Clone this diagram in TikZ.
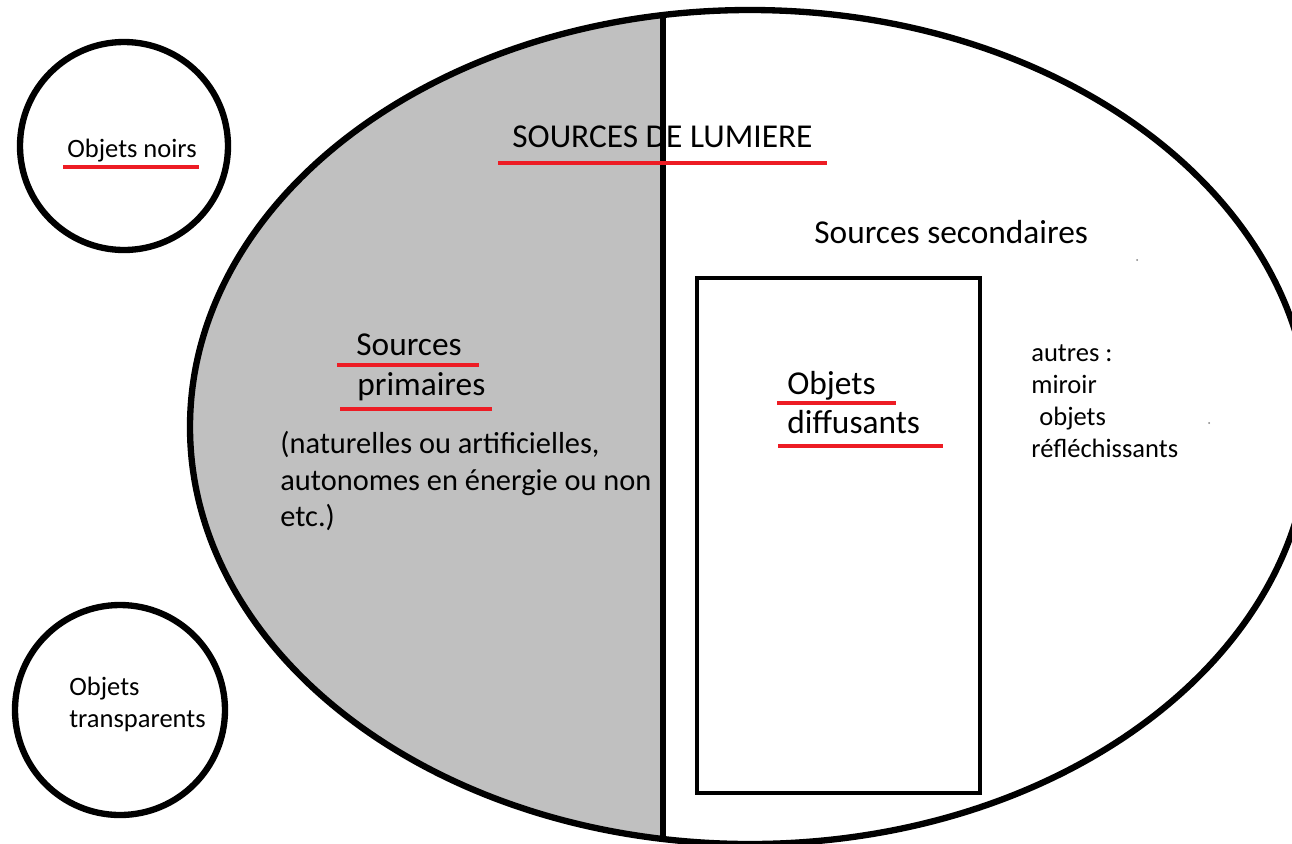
\documentclass[tikz,border=0pt]{standalone}
\usepackage{fontspec}
\setmainfont{Carlito}
\usetikzlibrary{positioning}
\definecolor{lightred}{RGB}{237,28,36}
\definecolor{halfgray}{RGB}{192,192,192}

\begin{document}
\begin{tikzpicture}[x=0.02cm, y=-0.02cm,
	outline/.style={line width=3.6pt},
	underline/.style={draw=lightred, line width=2.2pt},
	small/.style={inner sep=0pt, anchor=base west, font=\fontsize{15.1}{18.2}\selectfont},
	medium/.style={small, font=\fontsize{17.3}{20.8}\selectfont},
	large/.style={small, font=\fontsize{19}{22.7}\selectfont}]
	\useasboundingbox (0,0) rectangle (1292,843);

	% left half of the ellipse
	\begin{scope}
		\clip (0,0) rectangle (663,843);
		\fill[halfgray] (750,427) ellipse [x radius=560, y radius=417];
	\end{scope}
	\draw[outline] (750,427) ellipse [x radius=560, y radius=417];
	\coordinate (divtop) at (663,15);
	\coordinate (divbot) at (663,839);
	\draw[outline] (divtop) -- (divbot);
	\draw[line width=2.3pt] (697,278) rectangle (980,793);

	% side circles
	\draw[outline] (124,146) circle [radius=104];
	\draw[outline] (120,710) circle [radius=105];

	\node [large]  (lumiere)      at (512,147)  {SOURCES DE LUMIERE};
	\node [small]  (noirs)        at (67,157)   {Objets noirs};
	\node [small]  (transp1)      at (69,695)   {Objets};
	\node [small]  (transp2)      at (69,727)   {transparents};
	\node [large]  (secondaires)  at (814,243)  {Sources secondaires};
	\node [large]  (sources)      at (356,355)  {Sources};
	\node [large]  (primaires)    at (357,395)  {primaires};
	\node [medium] (natur1)       at (280,453)  {(naturelles ou artificielles,};
	\node [medium] (natur2)       at (280,490)  {autonomes en énergie ou non};
	\node [medium] (natur3)       at (280,526)  {etc.)};
	\node [large]  (objets)       at (787,394)  {Objets};
	\node [large]  (diffusants)   at (787,433)  {diffusants};
	\node [small]  (autres1)      at (1031,361) {autres :};
	\node [small]  (autres2)      at (1031,393) {miroir};
	\node [small]  (autres3)      at (1039,425) {objets};
	\node [small]  (autres4)      at (1031,457) {réfléchissants};

	\draw[underline] (498,163) -- (827,163);
	\draw[underline] (63,167) -- (199,167);
	\draw[underline] (337,365) -- (479,365);
	\draw[underline] (340,409) -- (492,409);
	\draw[underline] (777,403) -- (896,403);
	\draw[underline] (778,446) -- (943,446);

	\fill[gray] (1137,260) circle [radius=1];
	\fill[gray] (1209,423) circle [radius=1];
\end{tikzpicture}
\end{document}
